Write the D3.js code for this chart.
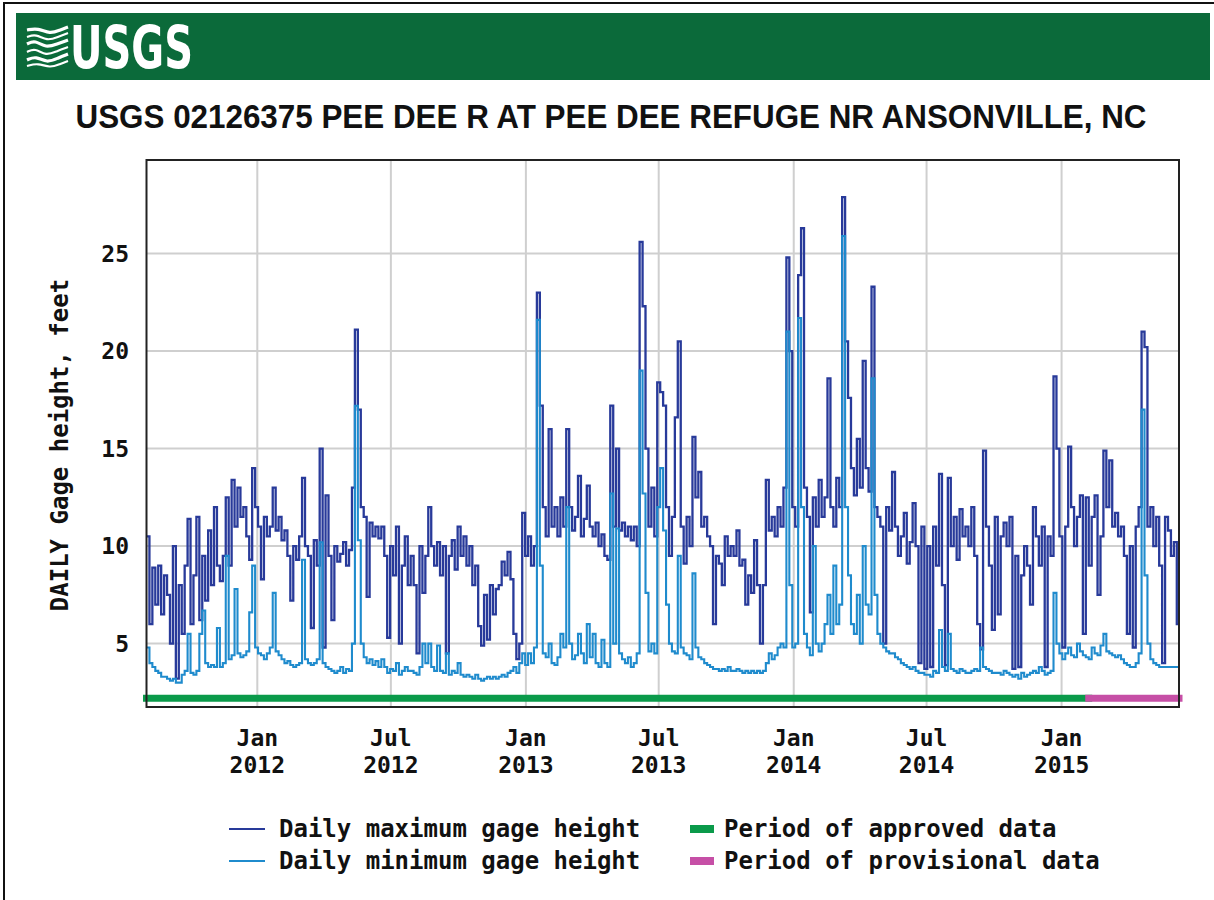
<!DOCTYPE html>
<html>
<head>
<meta charset="utf-8">
<script src="https://cdn.jsdelivr.net/npm/d3@7"></script>
<style>
  html, body { margin: 0; padding: 0; background: #fff; }
  svg { display: block; }
</style>
</head>
<body>
<svg id="chart" width="1214" height="900"></svg>
<script>
// Station gage-height record, sampled every 4 days from the first date.
const sampleStart = "2011-08-03";
const sampleStepDays = 4;
const rangeEnd = "2015-06-10";

// Daily maximum gage height, feet
const dailyMax = [
  10.5, 6.0, 8.9, 7.0, 9.0, 6.5, 8.5, 7.5, 5.0, 10.0,
  3.2, 8.0, 5.5, 9.0, 11.4, 6.0, 8.5, 11.5, 6.2, 9.5,
  7.2, 10.8, 8.0, 12.0, 9.0, 8.2, 9.5, 12.5, 9.0, 13.4,
  11.0, 13.0, 11.5, 12.0, 10.5, 9.3, 14.0, 12.0, 11.0, 8.3,
  11.5, 10.5, 11.0, 13.0, 10.8, 11.5, 10.3, 10.8, 9.5, 7.2,
  10.0, 9.3, 10.5, 13.5, 10.0, 9.5, 5.8, 10.3, 9.0, 15.0,
  4.8, 12.6, 9.5, 6.2, 10.0, 9.2, 9.6, 10.2, 9.0, 9.8,
  13.0, 21.1, 17.0, 12.0, 11.5, 7.4, 11.2, 10.5, 11.0, 10.4,
  11.0, 9.5, 5.3, 10.0, 8.5, 11.0, 5.0, 9.0, 10.5, 8.0,
  9.5, 8.0, 4.5, 10.0, 7.6, 9.5, 12.0, 10.0, 9.0, 10.2,
  8.5, 10.0, 4.5, 9.5, 10.3, 8.8, 11.0, 9.5, 10.5, 9.0,
  10.0, 8.0, 9.0, 5.9, 4.9, 7.5, 5.2, 8.0, 6.5, 7.8,
  8.0, 9.2, 8.5, 9.7, 8.3, 5.5, 4.2, 5.0, 11.7, 9.5,
  10.5, 9.0, 10.0, 23.0, 17.2, 12.0, 10.5, 16.0, 11.0, 12.0,
  10.5, 12.5, 11.0, 16.0, 12.0, 10.8, 11.5, 13.6, 10.5, 11.4,
  13.1, 11.0, 10.5, 11.2, 10.0, 10.6, 9.5, 9.3, 17.2, 11.0,
  15.0, 10.8, 11.2, 10.5, 11.0, 10.3, 11.0, 10.0, 25.6, 22.3,
  15.0, 11.0, 13.0, 10.5, 18.4, 17.9, 17.2, 12.0, 9.5, 11.5,
  16.6, 20.5, 11.0, 9.1, 11.5, 10.0, 15.6, 12.5, 13.8, 11.0,
  11.5, 10.5, 10.0, 6.0, 9.5, 9.1, 8.0, 10.5, 9.5, 10.0,
  9.5, 10.8, 9.0, 9.3, 7.0, 8.5, 7.6, 10.3, 8.0, 5.0,
  8.0, 13.4, 10.8, 11.5, 10.5, 12.0, 11.0, 13.0, 24.8, 20.0,
  12.0, 11.0, 23.9, 26.3, 13.0, 11.5, 6.6, 12.5, 11.0, 13.4,
  11.5, 12.5, 18.6, 12.0, 11.0, 13.5, 12.0, 27.9, 20.5, 17.6,
  14.0, 12.6, 15.5, 13.0, 19.5, 14.0, 12.8, 23.3, 12.0, 11.5,
  11.0, 5.0, 12.0, 10.8, 13.8, 11.0, 9.5, 10.5, 11.7, 9.1,
  10.2, 12.2, 10.0, 4.0, 11.0, 3.7, 10.0, 3.8, 11.0, 9.0,
  13.7, 8.0, 3.9, 13.5, 10.0, 11.5, 9.3, 11.9, 10.5, 11.0,
  10.0, 12.0, 9.5, 6.0, 4.7, 14.9, 11.0, 9.0, 5.7, 11.5,
  6.5, 10.5, 11.2, 10.0, 11.5, 3.7, 9.5, 3.8, 8.5, 10.0,
  9.0, 7.0, 12.0, 10.5, 9.0, 11.0, 3.8, 10.5, 9.5, 18.7,
  15.0, 10.5, 4.8, 11.0, 15.1, 12.0, 10.0, 11.5, 12.6, 5.5,
  12.5, 9.0, 11.5, 12.6, 7.5, 10.5, 14.9, 12.0, 14.4, 11.0,
  11.7, 10.5, 11.0, 9.5, 5.5, 10.0, 4.8, 11.0, 12.0, 21.0,
  20.2, 11.0, 12.0, 10.0, 11.5, 9.0, 4.0, 11.5, 10.8, 9.5,
  10.2, 6.0
];

// Daily minimum gage height, feet
const dailyMin = [
  4.8, 4.0, 3.8, 3.6, 3.5, 3.3, 3.3, 3.2, 3.1, 3.2,
  3.0, 3.0, 3.4, 3.6, 5.5, 3.5, 3.4, 3.6, 5.5, 6.7,
  4.0, 3.8, 3.9, 3.8, 5.8, 3.8, 4.0, 9.5, 4.2, 4.4,
  7.8, 4.5, 4.3, 4.4, 4.6, 6.6, 9.0, 4.8, 4.5, 4.4,
  4.2, 4.5, 4.8, 7.6, 4.6, 4.4, 4.2, 4.0, 4.1, 3.9,
  3.8, 3.9, 4.0, 9.3, 4.2, 4.0, 3.9, 4.0, 4.2, 10.2,
  4.0, 3.8, 3.7, 3.6, 3.5, 3.6, 3.8, 3.5, 3.7, 3.6,
  5.0, 17.2, 10.3, 5.0, 4.3, 4.0, 4.2, 3.9, 4.1, 3.8,
  4.2, 3.8, 3.5, 3.7, 3.6, 4.0, 3.4, 3.6, 3.8, 3.6,
  3.6, 3.5, 3.4, 3.8, 5.0, 4.0, 5.0, 3.8, 3.6, 4.9,
  3.6, 3.5, 4.5, 3.4, 3.6, 3.5, 4.0, 3.4, 3.3, 3.4,
  3.3, 3.2, 3.4, 3.2, 3.1, 3.2, 3.3, 3.2, 3.3, 3.2,
  3.3, 3.4, 3.3, 3.5, 3.6, 3.8, 3.5, 4.0, 4.5, 3.9,
  4.5, 4.0, 4.8, 21.6, 9.0, 4.5, 4.3, 5.0, 4.0, 3.9,
  4.3, 5.5, 4.8, 12.0, 5.0, 4.2, 4.4, 5.5, 4.5, 4.0,
  6.0, 4.3, 5.5, 4.0, 3.8, 5.2, 4.0, 3.8, 12.7, 5.0,
  10.9, 4.5, 4.2, 4.0, 4.3, 3.8, 4.0, 4.5, 19.0, 12.7,
  7.6, 4.6, 5.0, 4.5, 12.0, 14.0, 10.8, 7.0, 5.0, 4.6,
  4.5, 9.5, 4.8, 4.5, 4.4, 4.2, 8.6, 4.8, 4.3, 4.2,
  4.0, 3.9, 3.8, 3.7, 3.7, 3.6, 3.7, 3.6, 3.8, 3.6,
  3.6, 3.7, 3.6, 3.5, 3.6, 3.5, 3.6, 3.5, 3.6, 3.5,
  3.6, 4.0, 4.5, 4.2, 4.4, 4.8, 5.0, 4.8, 21.0, 8.0,
  4.8, 5.0, 21.7, 12.0, 5.5, 4.8, 4.4, 10.0, 5.0, 4.6,
  5.0, 6.0, 7.5, 5.5, 9.0, 6.0, 7.0, 25.9, 12.0, 8.5,
  6.0, 5.5, 7.5, 5.0, 10.0, 7.0, 6.5, 18.6, 7.5, 5.5,
  5.0, 4.8, 4.6, 4.5, 4.5, 4.3, 4.2, 4.0, 3.9, 3.8,
  3.7, 3.8, 3.6, 3.5, 3.5, 3.4, 3.4, 3.3, 3.6, 3.5,
  5.7, 3.8, 3.6, 5.5, 3.7, 3.6, 3.5, 3.7, 3.6, 3.5,
  3.5, 3.6, 3.7, 3.6, 4.8, 3.8, 3.7, 3.6, 3.5, 3.5,
  3.5, 3.4, 3.6, 3.5, 3.4, 3.3, 3.4, 3.2, 3.5, 3.3,
  3.4, 3.5, 3.6, 3.5, 3.8, 3.6, 3.4, 3.5, 3.6, 7.6,
  5.0, 4.5, 4.2, 4.5, 4.8, 4.4, 4.3, 5.0, 4.6, 4.4,
  4.3, 4.2, 4.8, 4.5, 4.4, 4.9, 5.5, 4.6, 4.5, 4.4,
  4.3, 4.4, 4.2, 4.0, 3.9, 3.8, 3.8, 4.0, 4.5, 17.0,
  8.5, 5.0, 4.2, 4.0, 3.9, 3.8, 3.8, 3.8, 3.8, 3.8,
  3.8, 3.8
];

// Data-approval periods
const approvedPeriod = ["2011-08-03", "2015-02-07"];
const provisionalPeriod = ["2015-02-07", "2015-06-10"];

// Axis ticks
const xTickDates = ["2012-01-01", "2012-07-01", "2013-01-01", "2013-07-01", "2014-01-01", "2014-07-01", "2015-01-01"];
const xTickMonths = ["Jan", "Jul", "Jan", "Jul", "Jan", "Jul", "Jan"];
const xTickYears = ["2012", "2012", "2013", "2013", "2014", "2014", "2015"];
const yTicks = [5, 10, 15, 20, 25];

const titleText = "USGS 02126375 PEE DEE R AT PEE DEE REFUGE NR ANSONVILLE, NC";
const yAxisTitle = "DAILY Gage height, feet";
const legendLines = ["Daily maximum gage height", "Daily minimum gage height"];
const legendPeriods = ["Period of approved data", "Period of provisional data"];

const COLORS = {
  max: "#283a9a",
  min: "#1f8bcd",
  approved: "#0a9a4a",
  provisional: "#c64fa6",
  header: "#0b6a3a",
  grid: "#cfcfcf"
};

const parse = d3.utcParse("%Y-%m-%d");
const svg = d3.select("#chart");
const monoFont = "'DejaVu Sans Mono', 'Liberation Mono', monospace";

// outer frame (top and left edges)
svg.append("path")
  .attr("d", "M4,900 L4,3 L1214,3")
  .attr("fill", "none").attr("stroke", "#111").attr("stroke-width", 2);

// ---- header band with logo ----
const header = svg.append("g");
header.append("rect")
  .attr("x", 16).attr("y", 13).attr("width", 1194).attr("height", 67)
  .attr("fill", COLORS.header);

// wave emblem
const waveLine = d3.line().curve(d3.curveBasis);
const emblem = header.append("g").attr("fill", "none").attr("stroke", "#fff").attr("stroke-linecap", "butt");
const waveRows = [
  [[27, 30], [38, 28], [50, 34], [60, 30], [68, 27]],
  [[27, 37], [36, 34], [47, 41], [58, 37], [68, 33]],
  [[27, 44], [35, 40], [46, 48], [57, 44], [68, 40]],
  [[27, 52], [35, 48], [46, 56], [57, 51], [68, 47]],
  [[27, 60], [36, 56], [47, 63], [58, 58], [68, 54]],
  [[27, 66], [38, 63], [50, 68], [60, 64], [68, 61]]
];
waveRows.forEach((pts, i) => {
  emblem.append("path")
    .attr("d", waveLine(pts))
    .attr("stroke-width", i % 2 === 0 ? 3.2 : 2.2);
});

header.append("text")
  .attr("x", 70).attr("y", 68)
  .attr("font-family", "'Liberation Sans Narrow', 'DejaVu Sans Condensed', 'Liberation Sans', sans-serif")
  .attr("font-weight", "bold")
  .attr("font-size", 58)
  .attr("textLength", 123)
  .attr("lengthAdjust", "spacingAndGlyphs")
  .attr("fill", "#fff")
  .text("USGS");

// ---- title (drawn narrow by a horizontal scale) ----
svg.append("text")
  .attr("transform", "translate(611,128) scale(0.9,1)")
  .attr("text-anchor", "middle")
  .attr("font-family", "'Liberation Sans', Arial, sans-serif")
  .attr("font-weight", "bold")
  .attr("font-size", 34)
  .attr("textLength", 1190)
  .attr("lengthAdjust", "spacingAndGlyphs")
  .attr("fill", "#111")
  .text(titleText);

// ---- plot area ----
const plot = { left: 146.5, right: 1179, top: 160, bottom: 707 };

const x = d3.scaleUtc()
  .domain([parse(sampleStart), parse(rangeEnd)])
  .range([plot.left, plot.right]);
const y = d3.scaleLinear()
  .domain([1.75, 29.8])
  .range([plot.bottom, plot.top]);

function buildSeries(values) {
  const t0 = parse(sampleStart);
  const pts = values.map((v, i) => ({ date: d3.utcDay.offset(t0, i * sampleStepDays), value: v }));
  pts.push({ date: parse(rangeEnd), value: values[values.length - 1] });
  return pts;
}
const maxSeries = buildSeries(dailyMax);
const minSeries = buildSeries(dailyMin);

svg.append("clipPath").attr("id", "plot-clip")
  .append("rect")
  .attr("x", plot.left).attr("y", plot.top)
  .attr("width", plot.right - plot.left).attr("height", plot.bottom - plot.top);

// grid
const grid = svg.append("g").attr("stroke", COLORS.grid).attr("stroke-width", 2);
grid.selectAll("line.v").data(xTickDates).join("line")
  .attr("x1", d => x(parse(d))).attr("x2", d => x(parse(d)))
  .attr("y1", plot.top).attr("y2", plot.bottom);
grid.selectAll("line.h").data(yTicks).join("line")
  .attr("x1", plot.left).attr("x2", plot.right)
  .attr("y1", d => y(d)).attr("y2", d => y(d));

// series lines
const stepLine = d3.line()
  .x(d => x(d.date))
  .y(d => y(d.value))
  .curve(d3.curveStepAfter);

const seriesG = svg.append("g").attr("clip-path", "url(#plot-clip)");
seriesG.append("path")
  .datum(maxSeries)
  .attr("d", stepLine)
  .attr("fill", "none")
  .attr("stroke", COLORS.max)
  .attr("stroke-width", 2.3);
seriesG.append("path")
  .datum(minSeries)
  .attr("d", stepLine)
  .attr("fill", "none")
  .attr("stroke", COLORS.min)
  .attr("stroke-width", 2.1);

// approval period bars
const periodY = y(2.2);
[[approvedPeriod, COLORS.approved], [provisionalPeriod, COLORS.provisional]].forEach(([p, c]) => {
  svg.append("line")
    .attr("x1", x(parse(p[0]))).attr("x2", x(parse(p[1])))
    .attr("y1", periodY).attr("y2", periodY)
    .attr("stroke", c).attr("stroke-width", 7)
    .attr("stroke-linecap", "square");
});

// frame
svg.append("rect")
  .attr("x", plot.left).attr("y", plot.top)
  .attr("width", plot.right - plot.left).attr("height", plot.bottom - plot.top)
  .attr("fill", "none").attr("stroke", "#222").attr("stroke-width", 2);

// ---- axes labels ----
const yAxisG = svg.append("g")
  .attr("font-family", monoFont).attr("font-weight", "bold").attr("font-size", 23).attr("fill", "#111");
yAxisG.selectAll("text").data(yTicks).join("text")
  .attr("x", 129).attr("y", d => y(d) + 8)
  .attr("text-anchor", "end")
  .text(d => d);

const xAxisG = svg.append("g")
  .attr("font-family", monoFont).attr("font-weight", "bold").attr("font-size", 23).attr("fill", "#111")
  .attr("text-anchor", "middle");
xTickDates.forEach((d, i) => {
  const t = xAxisG.append("text").attr("x", x(parse(d)));
  t.append("tspan").attr("x", x(parse(d))).attr("y", 746).text(xTickMonths[i]);
  t.append("tspan").attr("x", x(parse(d))).attr("y", 773).text(xTickYears[i]);
});

svg.append("text")
  .attr("transform", "translate(68,445) rotate(-90)")
  .attr("text-anchor", "middle")
  .attr("font-family", monoFont).attr("font-weight", "bold").attr("font-size", 24)
  .attr("fill", "#111")
  .text(yAxisTitle);

// ---- legend ----
const legend = svg.append("g")
  .attr("font-family", monoFont).attr("font-weight", "bold").attr("font-size", 24).attr("fill", "#111");
const rowsY = [829, 861];
[COLORS.max, COLORS.min].forEach((c, i) => {
  legend.append("line")
    .attr("x1", 229).attr("x2", 265).attr("y1", rowsY[i]).attr("y2", rowsY[i])
    .attr("stroke", c).attr("stroke-width", 2);
  legend.append("text").attr("x", 279).attr("y", rowsY[i] + 8).text(legendLines[i]);
});
[COLORS.approved, COLORS.provisional].forEach((c, i) => {
  legend.append("rect")
    .attr("x", 690).attr("y", rowsY[i] - 4).attr("width", 24).attr("height", 8)
    .attr("fill", c);
  legend.append("text").attr("x", 724).attr("y", rowsY[i] + 8).text(legendPeriods[i]);
});
</script>
</body>
</html>
